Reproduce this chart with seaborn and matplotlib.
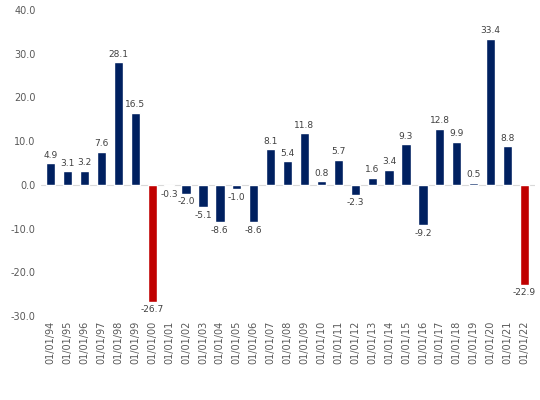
import matplotlib
matplotlib.use("Agg")
import matplotlib.pyplot as plt
import seaborn as sns
import pandas as pd

years = ["94","95","96","97","98","99","00","01","02","03","04","05","06","07","08","09","10","11","12","13","14","15","16","17","18","19","20","21","22"]
labels = ["01/01/" + y for y in years]
values = [4.9,3.1,3.2,7.6,28.1,16.5,-26.7,-0.3,-2.0,-5.1,-8.6,-1.0,-8.6,8.1,5.4,11.8,0.8,5.7,-2.3,1.6,3.4,9.3,-9.2,12.8,9.9,0.5,33.4,8.8,-22.9]
red_years = ["00","22"]

df = pd.DataFrame({"date": labels, "value": values})
colors = ["#C00000" if y in red_years else "#002060" for y in years]

sns.set_style("white")
fig, ax = plt.subplots(figsize=(5.4, 4.0), dpi=100)
sns.barplot(data=df, x="date", y="value", palette=colors, hue="date", legend=False,
            dodge=False, ax=ax, width=0.55, saturation=1)
for i, v in enumerate(values):
    ax.text(i, v + (0.8 if v >= 0 else -0.8), f"{v:.1f}", ha="center",
            va="bottom" if v >= 0 else "top", fontsize=6.5, color="#404040")
ax.set_ylim(-30, 40)
ax.set_yticks(range(-30, 41, 10))
ax.set_yticklabels([f"{t:.1f}" for t in range(-30, 41, 10)], fontsize=7, color="#595959")
ax.tick_params(axis="x", rotation=90, labelsize=7, colors="#595959", length=0)
ax.tick_params(axis="y", length=0)
ax.set_xlabel("")
ax.set_ylabel("")
ax.axhline(0, color="#d9d9d9", lw=0.8, zorder=0)
for s in ["top", "right", "bottom", "left"]:
    ax.spines[s].set_visible(False)
ax.set_xlim(-0.6, len(values) - 0.4)
plt.subplots_adjust(left=0.075, right=0.99, top=0.975, bottom=0.21)
fig.savefig("out.png", dpi=100)
